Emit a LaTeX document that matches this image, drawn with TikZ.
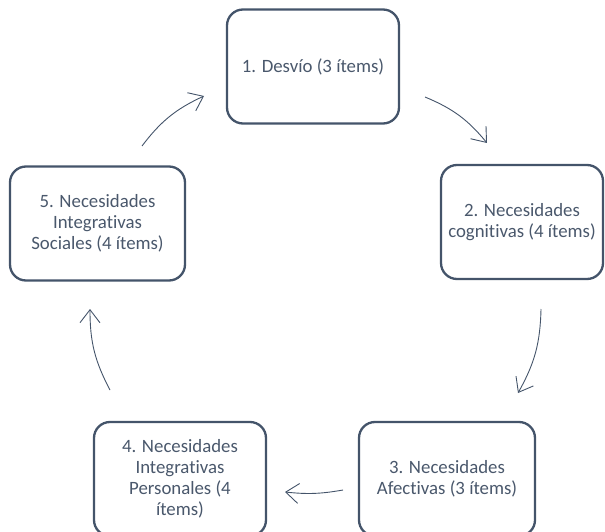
\documentclass[tikz,border=0pt]{standalone}
\usepackage{fontspec}
\setmainfont{Carlito}[Ligatures=NoCommon]
\usetikzlibrary{arrows.meta}
\definecolor{slate}{HTML}{44546A}
\definecolor{txt}{HTML}{4A586C}
\begin{document}
\begin{tikzpicture}[x=1pt,y=1pt,
  box/.style={draw=slate, line width=2.3pt, fill=white, rounded corners=16pt,
    minimum width=#1, minimum height=114pt, inner sep=0pt, align=center,
    text=txt, font=\fontsize{18.8}{21}\selectfont},
  box/.default=172pt,
  cyc/.style={draw=slate, line width=0.9pt,
    -{Straight Barb[length=13pt,width=20pt,line width=0.9pt]}}]
\useasboundingbox (0,0) rectangle (605,531);
\clip (0,0) rectangle (605,531);
% pixel y -> 531 - y
\node[box] (n1) at (313,464.5) {1. Desvío (3 ítems)};
\node[box=162pt] (n2) at (522,309) {2. Necesidades\\cognitivas (4 ítems)};
\node[box=176pt] (n3) at (447,52) {3. Necesidades\\Afectivas (3 ítems)};
\node[box] (n4) at (180,52) {4. Necesidades\\Integrativas\\Personales (4\\ítems)};
\node[box=175pt] (n5) at (97.5,307.5) {5. Necesidades\\Integrativas\\Sociales (4 ítems)};
% arrow end points
\coordinate (a1s) at (425,434);
\coordinate (a1e) at (487,388);
\coordinate (a2s) at (541,222);
\coordinate (a2e) at (518,138);
\coordinate (a3s) at (343,41);
\coordinate (a3e) at (285,39);
\coordinate (a4s) at (110,141);
\coordinate (a4e) at (90,222);
\coordinate (a5s) at (142,385);
\coordinate (a5e) at (204,435);
\draw[cyc] (a1s) to[bend left=14] (a1e);
\draw[cyc] (a2s) to[bend left=14] (a2e);
\draw[cyc] (a3s) to[bend left=8] (a3e);
\draw[cyc] (a4s) to[bend left=14] (a4e);
\draw[cyc] (a5s) to[bend left=14] (a5e);
\end{tikzpicture}
\end{document}
